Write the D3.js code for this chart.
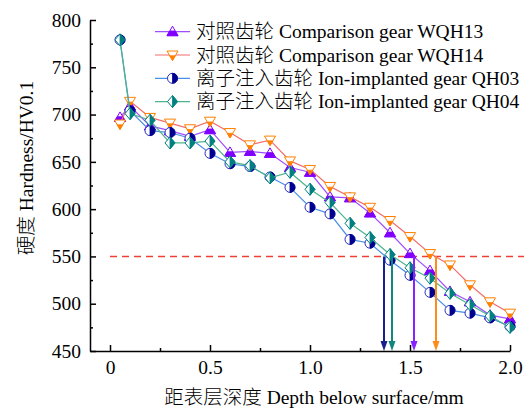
<!DOCTYPE html>
<html>
<head>
<meta charset="utf-8">
<script src="https://cdn.jsdelivr.net/npm/d3@7"></script>
<style>
  body { margin: 0; background: #fff; }
  text { font-family: "Liberation Serif", "Noto Sans CJK SC", serif; font-weight: 300; }
</style>
</head>
<body>
<div id="svg"></div>
<script>
var depth = [0.05, 0.1, 0.2, 0.3, 0.4, 0.5, 0.6, 0.7, 0.8, 0.9, 1.0,
             1.1, 1.2, 1.3, 1.4, 1.5, 1.6, 1.7, 1.8, 1.9, 2.0];

var wqh13 = [697, 709, 688, 683, 677, 684, 660, 661, 659, 644, 639,
             613, 612, 596, 575, 553, 535, 513, 502, 488, 484];
var wqh14 = [690, 714, 697, 691, 685, 693, 681, 668, 673, 651, 642,
             624, 613, 602, 588, 571, 553, 541, 520, 502, 490];
var qh03  = [779, 704, 683, 681, 675, 659, 648, 645, 634, 623, 602,
             595, 568, 564, 546, 530, 512, 493, 490, 485, 476];
var qh04  = [779, 701, 694, 670, 670, 672, 650, 646, 633, 639, 621,
             607, 585, 570, 552, 538, 527, 511, 499, 487, 475];

var seriesNames = ["对照齿轮 Comparison gear WQH13", "对照齿轮 Comparison gear WQH14",
                   "离子注入齿轮 Ion-implanted gear QH03", "离子注入齿轮 Ion-implanted gear QH04"];

// depth where each curve crosses 550 HV
var threshold = 550;
var crossDepth = [1.52, 1.63, 1.37, 1.41];

var xTicks = [0, 0.5, 1.0, 1.5, 2.0];
var xMinor = [0.25, 0.75, 1.25, 1.75];
var yTicks = [450, 500, 550, 600, 650, 700, 750, 800];
var yMinor = [475, 525, 575, 625, 675, 725, 775];

var width = 531;
var height = 410;

var styles = [
  {line: "#a04cff", mark: "#8000ff", shape: "up"},
  {line: "#f26d6d", mark: "#ff8000", shape: "down"},
  {line: "#4a8fe6", mark: "#000090", edge: "#2a2ab8", shape: "circle"},
  {line: "#4db48c", mark: "#008080", shape: "diamond"}
];
var arrowColors = ["#8a1fff", "#ff8c1a", "#16208f", "#10877e"];

var x_axis = d3.scaleLinear().domain([-0.1, 2.0]).range([90, 510]);
var y_axis = d3.scaleLinear().domain([450, 800]).range([351, 20]);

var svg = d3.select("#svg").append("svg")
  .attr("width", width)
  .attr("height", height);

// white outline shape + filled half
function markerPaths(shape) {
  if (shape == "up") return ["M0,-5.5L5.5,4L-5.5,4Z", "M-2.75,-0.75L2.75,-0.75L5.5,4L-5.5,4Z"];
  if (shape == "down") return ["M-5.5,-4L5.5,-4L0,5.5Z", "M-2.75,0.75L2.75,0.75L0,5.5Z"];
  if (shape == "circle") return ["M0,-5A5,5 0 1,1 0,5A5,5 0 1,1 0,-5Z", "M0,-5A5,5 0 0,1 0,5Z"];
  return ["M0,-6L5,0L0,6L-5,0Z", "M0,-6L5,0L0,6Z"];
}

function drawMarker(g, st) {
  var p = markerPaths(st.shape);
  g.append("path").attr("d", p[0]).attr("fill", "#fff")
    .attr("stroke", st.edge || st.mark).attr("stroke-width", 1);
  g.append("path").attr("d", p[1]).attr("fill", st.mark)
    .attr("stroke", st.mark).attr("stroke-width", 0.8);
}

// 550 HV dashed line
svg.append("line")
  .attr("x1", x_axis(0)).attr("x2", x_axis(2.07))
  .attr("y1", y_axis(threshold)).attr("y2", y_axis(threshold))
  .attr("stroke", "#ee4035").attr("stroke-width", 1.6)
  .attr("stroke-dasharray", "7,5");

var line = d3.line()
  .x(function(d) { return x_axis(d[0]); })
  .y(function(d) { return y_axis(d[1]); });

[wqh13, wqh14, qh03, qh04].forEach(function(vals, i) {
  var pts = depth.map(function(d, j) { return [d, vals[j]]; });
  svg.append("path")
    .attr("d", line(pts))
    .attr("fill", "none")
    .attr("stroke", styles[i].line)
    .attr("stroke-width", 1.2);
  pts.forEach(function(p) {
    var g = svg.append("g").attr("transform", "translate(" + x_axis(p[0]) + "," + y_axis(p[1]) + ")");
    drawMarker(g, styles[i]);
  });
});

// arrows down to the axis
crossDepth.forEach(function(d, i) {
  var xp = x_axis(d);
  var y0 = y_axis(threshold);
  var y1 = y_axis(450);
  svg.append("line")
    .attr("x1", xp).attr("x2", xp)
    .attr("y1", y0).attr("y2", y1 - 8)
    .attr("stroke", arrowColors[i]).attr("stroke-width", 2);
  svg.append("path")
    .attr("d", "M" + (xp - 3.5) + "," + (y1 - 10) + "L" + (xp + 3.5) + "," + (y1 - 10) + "L" + xp + "," + y1 + "Z")
    .attr("fill", arrowColors[i]);
});

// axes
var gx = svg.append("g")
  .attr("transform", "translate(0," + y_axis(450) + ")")
  .call(d3.axisBottom(x_axis).tickValues(xTicks).tickSizeInner(-6).tickSizeOuter(0).tickPadding(9)
    .tickFormat(function(d) { return d == 0 ? "0" : d3.format(".1f")(d); }));
svg.append("g")
  .attr("transform", "translate(0," + y_axis(450) + ")")
  .call(d3.axisBottom(x_axis).tickValues(xMinor).tickSizeInner(-3).tickSizeOuter(0).tickFormat(""))
  .select(".domain").remove();

var gy = svg.append("g")
  .attr("transform", "translate(" + x_axis(-0.1) + ",0)")
  .call(d3.axisLeft(y_axis).tickValues(yTicks).tickSizeInner(-6).tickSizeOuter(0).tickPadding(9));
svg.append("g")
  .attr("transform", "translate(" + x_axis(-0.1) + ",0)")
  .call(d3.axisLeft(y_axis).tickValues(yMinor).tickSizeInner(-3).tickSizeOuter(0).tickFormat(""))
  .select(".domain").remove();

svg.selectAll(".domain, .tick line").attr("stroke", "#000").attr("stroke-width", 1.5);
svg.selectAll(".tick text")
  .attr("font-family", "Liberation Serif, serif")
  .attr("font-size", 19.5).attr("fill", "#000");

// axis titles
svg.append("text")
  .attr("x", 314).attr("y", 404)
  .attr("text-anchor", "middle")
  .attr("font-size", 19.5)
  .text("距表层深度 Depth below surface/mm");

svg.append("text")
  .attr("transform", "translate(33,168) rotate(-90)")
  .attr("text-anchor", "middle")
  .attr("font-size", 19.5)
  .text("硬度 Hardness/HV0.1");

// legend
var legend = svg.append("g");
seriesNames.forEach(function(name, i) {
  var yy = 31.7 + i * 23.3;
  legend.append("line")
    .attr("x1", 155).attr("x2", 190)
    .attr("y1", yy).attr("y2", yy)
    .attr("stroke", styles[i].line).attr("stroke-width", 1.2);
  drawMarker(legend.append("g").attr("transform", "translate(172.5," + yy + ")"), styles[i]);
  legend.append("text")
    .attr("x", 196).attr("y", yy + 6.5)
    .attr("font-size", 19.5)
    .text(name);
});
</script>
</body>
</html>
